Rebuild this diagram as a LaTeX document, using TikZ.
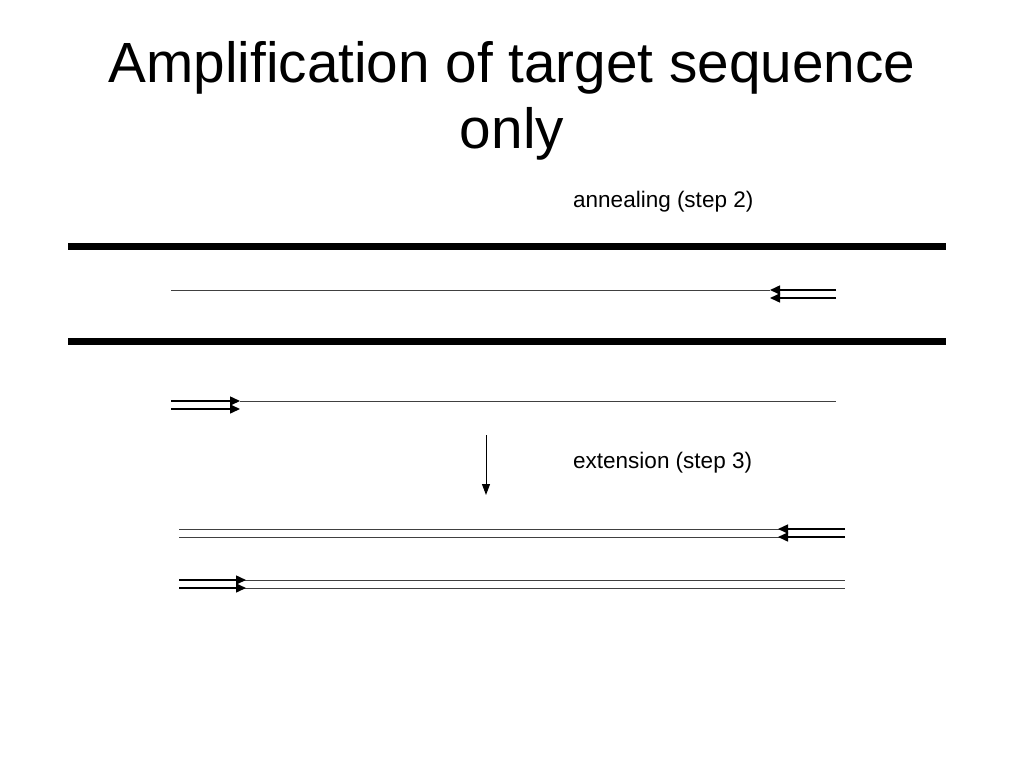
\documentclass[tikz,border=0pt]{standalone}
\usepackage{fontspec}
\setmainfont{Liberation Sans}
\usetikzlibrary{arrows.meta}
\tikzset{
  strand/.style={line width=7pt},
  template/.style={line width=0.9pt, color=black!75},
  primer/.style={line width=1.5pt, -{Triangle[length=10pt,width=9pt]}},
  steplabel/.style={font=\fontsize{22.5}{27}\selectfont, anchor=base west, inner sep=0pt}
}
\begin{document}
\begin{tikzpicture}[x=1pt, y=-1pt]
			%%%%% START %%%%%
			\useasboundingbox[fill=white] (0, 0) rectangle (1024, 768);
			
			\node[align=center, font=\fontsize{56.7}{66}\selectfont, inner sep=0pt, anchor=base] (title) at (512, 148) {Amplification of target sequence\\only};
			
			\node[steplabel] (anneal) at (573, 207) {annealing (step 2)};
			
			\draw[strand] (68, 246) -- (946, 246);
			\draw[strand] (68, 341) -- (946, 341);
			
			\draw[template] (171, 290) -- (770, 290);
			\draw[primer] (836, 290) -- (770, 290);
			\draw[primer] (836, 298) -- (770, 298);
			
			\draw[template] (240, 401) -- (836, 401);
			\draw[primer] (171, 401) -- (240, 401);
			\draw[primer] (171, 409) -- (240, 409);
			
			\draw[line width=1pt, -{Triangle[length=11pt,width=8pt]}] (486, 435) -- (486, 495);
			
			\node[steplabel] (extend) at (573, 468) {extension (step 3)};
			
			\draw[template] (179, 529) -- (845, 529);
			\draw[template] (179, 537) -- (845, 537);
			\draw[primer] (845, 529) -- (778, 529);
			\draw[primer] (845, 537) -- (778, 537);
			
			\draw[template] (179, 580) -- (845, 580);
			\draw[template] (179, 588) -- (845, 588);
			\draw[primer] (179, 580) -- (246, 580);
			\draw[primer] (179, 588) -- (246, 588);
			
			%%%%% END %%%%%
\end{tikzpicture}
\end{document}
